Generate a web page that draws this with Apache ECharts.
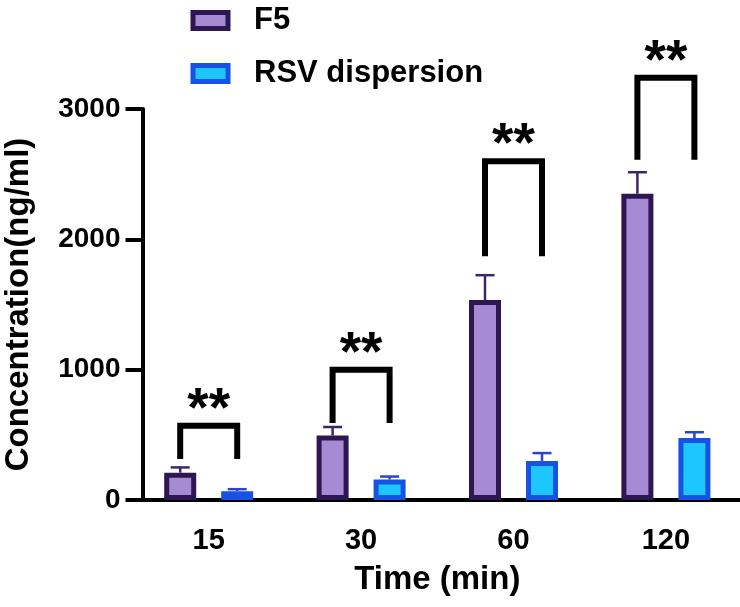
<!DOCTYPE html>
<html>
<head>
<meta charset="utf-8">
<script src="https://cdn.jsdelivr.net/npm/echarts@6/dist/echarts.min.js"></script>
<style>
html,body{margin:0;padding:0;background:#fff;}
#chart{width:740px;height:607px;}
</style>
</head>
<body>
<div id="chart"></div>
<script>
// ---- data ----
const categories = ['15', '30', '60', '120'];
const seriesNames = ['F5', 'RSV dispersion'];
const f5Values = [210, 495, 1535, 2350];
const f5Errors = [40, 65, 190, 165];
const rsvValues = [68, 158, 300, 475];
const rsvErrors = [15, 22, 60, 45];
const bracketLow = [315, 590, 1870, 2610];
const bracketHigh = [570, 1000, 2600, 3240];
const sigLabels = ['**', '**', '**', '**'];
const yMin = 0, yMax = 3000, yStep = 1000;

// ---- style ----
const FONT = '"Liberation Sans", Arial, sans-serif';
const f5Fill = '#a68ad4', f5Border = '#2c1752', f5Err = '#3b2764';
const rsvFill = '#1ec6ff', rsvBorder = '#1652e4', rsvErr = '#2a45cc';
const barW = 32, barGapPx = 25;
const half = (barW + barGapPx) / 2;

const chart = echarts.init(document.getElementById('chart'), null, {renderer: 'canvas'});

function errRender(sign, color) {
  return function (params, api) {
    const i = api.value(0), v = api.value(1), e = api.value(2);
    const base = api.coord([i, v]);
    const top = api.coord([i, v + e]);
    const x = base[0] + sign * half;
    const st = {stroke: color, lineWidth: 2.5};
    return {type: 'group', children: [
      {type: 'line', shape: {x1: x, y1: base[1], x2: x, y2: top[1]}, style: st},
      {type: 'line', shape: {x1: x - 9.5, y1: top[1], x2: x + 9.5, y2: top[1]}, style: st}
    ]};
  };
}

function bracketRender(params, api) {
  const i = api.value(0), lo = api.value(1), hi = api.value(2);
  const pLo = api.coord([i, lo]);
  const pHi = api.coord([i, hi]);
  const xl = pLo[0] - half, xr = pLo[0] + half;
  return {type: 'group', children: [
    {type: 'polyline', shape: {points: [[xl, pLo[1]], [xl, pHi[1]], [xr, pHi[1]], [xr, pLo[1]]]},
      style: {stroke: '#000', lineWidth: 6, fill: null, lineJoin: 'miter'}},
    {type: 'text', x: pLo[0], y: pHi[1] - 15,
      style: {text: sigLabels[i], fill: '#000', font: 'bold 55px ' + FONT, align: 'center', verticalAlign: 'middle'}}
  ]};
}

const option = {
  backgroundColor: '#fff',
  animation: false,
  legend: {
    orient: 'vertical', left: 190.5, top: 5, padding: 0,
    itemWidth: 35, itemHeight: 16, itemGap: 22,
    textStyle: {fontFamily: FONT, fontSize: 31, fontWeight: 'bold', color: '#000', padding: [0, 0, 0, 21]},
    data: [
      {name: seriesNames[0], icon: 'rect', itemStyle: {color: f5Fill, borderColor: f5Border, borderWidth: 5}},
      {name: seriesNames[1], icon: 'rect', itemStyle: {color: rsvFill, borderColor: rsvBorder, borderWidth: 5}}
    ]
  },
  grid: {left: 132.5, width: 609.6, top: 109, height: 391, containLabel: false, outerBoundsMode: 'none'},
  xAxis: {
    type: 'category', data: categories,
    name: 'Time (min)', nameLocation: 'middle', nameGap: 63,
    nameTextStyle: {fontFamily: FONT, fontSize: 33, fontWeight: 'bold', color: '#000'},
    axisLine: {lineStyle: {color: '#000', width: 4}},
    axisTick: {alignWithLabel: true, length: 15, lineStyle: {color: '#000', width: 3}},
    axisLabel: {margin: 26, fontFamily: FONT, fontSize: 29, fontWeight: 'bold', color: '#000'}
  },
  yAxis: {
    type: 'value', min: yMin, max: yMax, interval: yStep, offset: -10,
    name: 'Concentration(ng/ml)', nameLocation: 'middle', nameGap: 107,
    nameTextStyle: {fontFamily: FONT, fontSize: 33, fontWeight: 'bold', color: '#000'},
    axisLine: {show: true, lineStyle: {color: '#000', width: 4}},
    axisTick: {show: true, length: 17, lineStyle: {color: '#000', width: 4}},
    axisLabel: {margin: 22, fontFamily: FONT, fontSize: 28, fontWeight: 'bold', color: '#000',
      formatter: v => String(v)},
    splitLine: {show: false}
  },
  series: [
    {name: seriesNames[0], type: 'bar', data: f5Values, barWidth: barW, barGap: (barGapPx / barW * 100) + '%',
      itemStyle: {color: f5Fill, borderColor: f5Border, borderWidth: 5}},
    {name: seriesNames[1], type: 'bar', data: rsvValues, barWidth: barW,
      itemStyle: {color: rsvFill, borderColor: rsvBorder, borderWidth: 5}},
    {type: 'custom', renderItem: errRender(-1, f5Err), z: 3,
      data: categories.map((c, i) => [i, f5Values[i], f5Errors[i]])},
    {type: 'custom', renderItem: errRender(1, rsvErr), z: 3,
      data: categories.map((c, i) => [i, rsvValues[i], rsvErrors[i]])},
    {type: 'custom', renderItem: bracketRender, z: 4, clip: false,
      data: categories.map((c, i) => [i, bracketLow[i], bracketHigh[i]])}
  ]
};
chart.setOption(option);
</script>
</body>
</html>
